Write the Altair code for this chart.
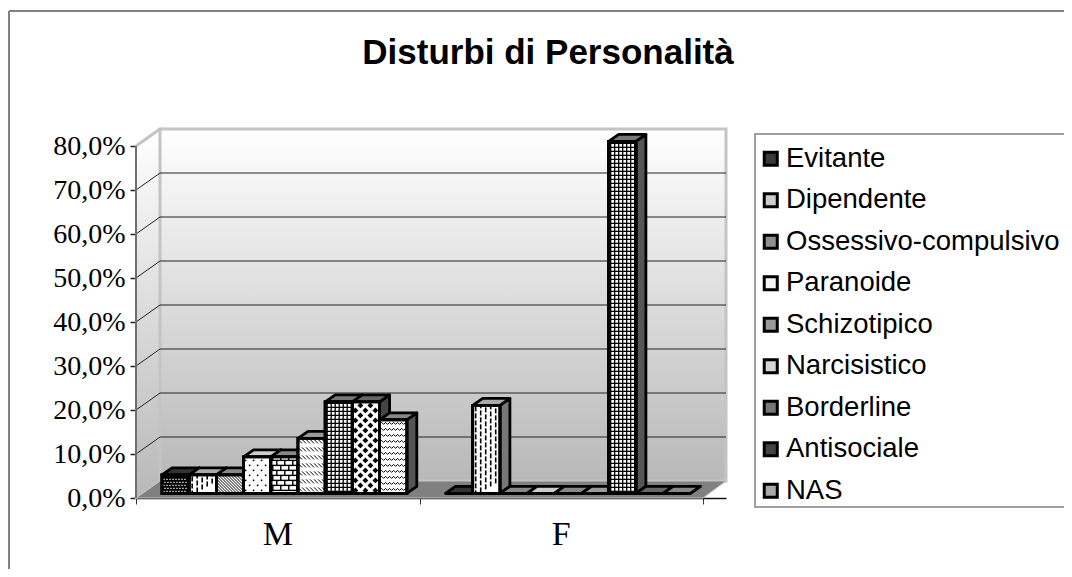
import altair as alt
import pandas as pd

TITLE = "Disturbi di Personalità"
GENDERS = ["M", "F"]
SERIES = ["Evitante", "Dipendente", "Ossessivo-compulsivo", "Paranoide", "Schizotipico",
          "Narcisistico", "Borderline", "Antisociale", "NAS"]
VALUES_M = [0.042, 0.042, 0.042, 0.083, 0.083, 0.125, 0.208, 0.208, 0.167]
VALUES_F = [0.0, 0.2, 0.0, 0.0, 0.0, 0.0, 0.8, 0.0, 0.0]
Y_TICKS = [0.0, 0.1, 0.2, 0.3, 0.4, 0.5, 0.6, 0.7, 0.8]

FRONT = ["#000000", "#ffffff", "#ffffff", "#ffffff", "#ffffff", "#ffffff", "#ffffff", "#ffffff", "#ffffff"]
SIDE = ["#111111", "#777777", "#666666", "#888888", "#666666", "#777777", "#555555", "#444444", "#555555"]
TOP = ["#333333", "#aaaaaa", "#888888", "#cccccc", "#888888", "#999999", "#777777", "#666666", "#888888"]
SWATCH = ["#3a3a3a", "#cccccc", "#8f8f8f", "#f4f4f4", "#9a9a9a", "#d5d5d5", "#777777", "#444444", "#aaaaaa"]

# plot geometry: one x unit is one gender group, one y unit is 100%
W, H = 590, 370
PX, PY = 1 / 283.5, 1 / 440
X_MAX, Y_MAX = W * PX, H * PY
WALL_DX, WALL_DY = 24 * PX, 17 * PY
BAR_DX, BAR_DY = 10 * PX, 7 * PY
BAR_W, BAR_START, BASE = 27.2 * PX, 26 * PX, 0.0105
STROKE = 2.8
x_s = alt.Scale(domain=[0, X_MAX], nice=False, zero=False)
y_s = alt.Scale(domain=[0, Y_MAX], nice=False, zero=False)


def X(f="x:Q", **k):
    return alt.X(f, scale=x_s, axis=None, title=None, **k)


def Y(f="y:Q"):
    return alt.Y(f, scale=y_s, axis=None, title=None, stack=None)


X2, Y2 = alt.X2("x2:Q"), alt.Y2("y2:Q")

bars = []
for g, vals in enumerate([VALUES_M, VALUES_F]):
    for i, v in enumerate(vals):
        xl = g + BAR_START + i * BAR_W
        bars.append(dict(id=f"{g}-{i}", s=i, name=SERIES[i], x=xl, x2=xl + BAR_W, y=BASE + v, y2=BASE, v=v,
                         front=FRONT[i], side=SIDE[i], top=TOP[i]))
bars_df = pd.DataFrame(bars)

side_rows, top_rows = [], []
for b in bars:
    xr, t, bs = b["x2"], b["y"], b["y2"]
    side_rows += [dict(id=b["id"], x=xr, y=t, y2=bs, fill=b["side"]),
                  dict(id=b["id"], x=xr + BAR_DX, y=t + BAR_DY, y2=bs + BAR_DY, fill=b["side"])]
    xl = b["x"]
    top_rows += [dict(id=b["id"], x=xl, y=t, y2=t, fill=b["top"]),
                 dict(id=b["id"], x=xl + BAR_DX, y=t + BAR_DY, y2=t, fill=b["top"]),
                 dict(id=b["id"], x=xr, y=t + BAR_DY, y2=t, fill=b["top"]),
                 dict(id=b["id"], x=xr + BAR_DX, y=t + BAR_DY, y2=t + BAR_DY, fill=b["top"])]


def faces(rows):
    return alt.Chart(pd.DataFrame(rows)).mark_area(
        stroke="black", strokeWidth=STROKE, strokeJoin="round", orient="vertical", interpolate="linear"
    ).encode(x=X(), y=Y(), y2=Y2, detail="id:N", fill=alt.Fill("fill:N", scale=None))


# ---------- hatch patterns (styling only, in pixels inside each front face) ----------
def clip(u0, t0, u1, t1, w, h):
    a, b = 0.0, 1.0
    du, dt = u1 - u0, t1 - t0
    for p, q in ((-du, u0), (du, w - u0), (-dt, t0), (dt, h - t0)):
        if p == 0:
            if q < 0:
                return None
        else:
            r = q / p
            if p < 0:
                a = max(a, r)
            else:
                b = min(b, r)
    if a > b:
        return None
    return (u0 + a * du, t0 + a * dt, u0 + b * du, t0 + b * dt)


segs, dots = [], []
for b in bars:
    w, h = 27.2, b["v"] / PY
    if h <= 0:
        continue
    name = b["name"]

    def seg(u0, t0, u1, t1, sw=1.0):
        c = clip(u0, t0, u1, t1, w, h)
        if c:
            segs.append(dict(x=b["x"] + c[0] * PX, x2=b["x"] + c[2] * PX, y=BASE + c[1] * PY,
                             y2=BASE + c[3] * PY, sw=sw))

    def dot(u, t, shape, size, col):
        if 1.5 < u < w - 1.5 and 1.5 < t < h - 1.5:
            dots.append(dict(x=b["x"] + u * PX, y=BASE + t * PY, shape=shape, size=size, col=col))

    rows = int(h) + 10
    if name == "Evitante":
        for ri, r in enumerate(range(2, rows, 3)):
            for c in range(2 + (ri % 2), 28, 3):
                dot(c, r, "square", 1.6, "#ffffff")
    elif name == "Dipendente":
        for ci, c in enumerate(range(3, 27, 5)):
            for t in range(-2, rows, 7):
                seg(c, t + ci * 3, c, t + ci * 3 + 5, 1.6)
    elif name == "Ossessivo-compulsivo":
        for k in range(-rows, 40, 3):
            seg(k, h, k + h, 0, 1.0)
    elif name == "Paranoide":
        for ri, t in enumerate(range(3, rows, 5)):
            for c in range(2 + 4 * (ri % 2), 27, 8):
                dot(c, t, "square", 2.5, "#000000")
    elif name == "Schizotipico":
        for ri, t in enumerate(range(3, rows, 5)):
            seg(0, t, w, t, 1.4)
            for c in range(2 + 4 * (ri % 2), 27, 8):
                seg(c, t, c, t + 5, 1.4)
    elif name == "Narcisistico":
        for t in range(4, rows, 8):
            for c in range(0, 27, 4):
                seg(c, t + 2, c + 4, t - 2, 1.0)
    elif name == "Borderline":
        for c in range(2, 27, 4):
            seg(c, 0, c, h, 1.3)
        for t in range(2, rows, 4):
            seg(0, t, w, t, 1.3)
    elif name == "Antisociale":
        for ri, t in enumerate(range(3, rows, 5)):
            for c in range(3 + 5 * (ri % 2), 28, 10):
                dot(c, t, "diamond", 34, "#000000")
    elif name == "NAS":
        for t in range(3, rows, 6):
            for c in range(0, 27, 4):
                seg(c, t, c + 2, t + 2, 1.0)
                seg(c + 2, t + 2, c + 4, t, 1.0)

# ---------- walls and floor ----------
GRAD = alt.LinearGradient(gradient="linear", x1=0, x2=0, y1=0, y2=1,
                          stops=[alt.GradientStop(offset=0, color="#ffffff"),
                                 alt.GradientStop(offset=1, color="#b8b8b8")])
top_v = Y_TICKS[-1]
left_wall = alt.Chart(pd.DataFrame([dict(x=0, y=top_v, y2=0), dict(x=WALL_DX, y=top_v + WALL_DY, y2=WALL_DY)])).mark_area(
    fill=GRAD, orient="vertical", stroke="#c4c4c4", strokeWidth=2).encode(x=X(), y=Y(), y2=Y2)
back_wall = alt.Chart(pd.DataFrame([dict(x=WALL_DX, x2=X_MAX, y=top_v + WALL_DY, y2=WALL_DY)])).mark_rect(
    fill=GRAD, stroke="#c4c4c4", strokeWidth=3).encode(x=X(), x2=X2, y=Y(), y2=Y2)
floor = alt.Chart(pd.DataFrame([dict(x=0, y=0, y2=0), dict(x=WALL_DX, y=WALL_DY, y2=0),
                                dict(x=2, y=WALL_DY, y2=0), dict(x=X_MAX, y=WALL_DY, y2=WALL_DY)])).mark_area(
    fill="#808080", stroke="#c4c4c4", strokeWidth=1, orient="vertical").encode(x=X(), y=Y(), y2=Y2)

grid_rows = []
for v in Y_TICKS[1:-1]:
    grid_rows.append(dict(x=WALL_DX, x2=X_MAX, y=v + WALL_DY, y2=v + WALL_DY))
    grid_rows.append(dict(x=0, x2=WALL_DX, y=v, y2=v + WALL_DY))
grid = alt.Chart(pd.DataFrame(grid_rows)).mark_rule(color="#222222", strokeWidth=1).encode(x=X(), x2=X2, y=Y(), y2=Y2)
edge = alt.Chart(pd.DataFrame([dict(x=0, x2=WALL_DX, y=top_v, y2=top_v + WALL_DY)])).mark_rule(
    color="#c4c4c4", strokeWidth=3).encode(x=X(), x2=X2, y=Y(), y2=Y2)

# ---------- axes ----------
axes = alt.Chart(pd.DataFrame({"x": [0, 1, 2], "y": [0, 0, 0]})).mark_point(opacity=0).encode(
    x=alt.X("x:Q", scale=x_s, title=None,
            axis=alt.Axis(values=[0, 1, 2], labels=False, grid=False, tickSize=6, tickColor="#333333",
                          domainColor="#111111", domainWidth=1.5, tickWidth=1)),
    y=alt.Y("y:Q", scale=y_s, title=None,
            axis=alt.Axis(values=Y_TICKS, grid=False, domain=False, tickSize=6, tickColor="#222222", tickWidth=1.5,
                          labelFont="Liberation Serif", labelFontSize=28, labelColor="black", labelPadding=5,
                          labelExpr="replace(format(datum.value, '.1%'), '.', ',')")),
)
y_line = alt.Chart(pd.DataFrame([dict(x=0, y=0, y2=top_v)])).mark_rule(color="#707070", strokeWidth=2).encode(
    x=X(), y=Y(), y2=Y2)

# ---------- bars ----------
sides = faces(side_rows)
tops = faces(top_rows)
swatches = alt.Chart(bars_df).mark_rect(stroke="black", strokeWidth=STROKE).encode(
    x=X(), x2=X2, y=Y(), y2=Y2,
    color=alt.Color("name:N", sort=SERIES, title=None,
                    scale=alt.Scale(domain=SERIES, range=SWATCH),
                    legend=alt.Legend(orient="none", legendX=621, legendY=17, padding=0,
                                      symbolType="square", symbolSize=170, symbolStrokeColor="black",
                                      symbolStrokeWidth=3, symbolOpacity=1, labelFont="Liberation Sans",
                                      labelFontSize=27.5, labelColor="black", labelLimit=320, labelOffset=1.5,
                                      rowPadding=12.5)),
)
fronts = alt.Chart(bars_df).mark_rect(stroke="black", strokeWidth=STROKE).encode(
    x=X(), x2=X2, y=Y(), y2=Y2, fill=alt.Fill("front:N", scale=None))
hatch = alt.Chart(pd.DataFrame(segs)).mark_rule(color="black").encode(
    x=X(), x2=X2, y=Y(), y2=Y2, strokeWidth=alt.StrokeWidth("sw:Q", scale=None))
points = alt.Chart(pd.DataFrame(dots)).mark_point(filled=True, opacity=1).encode(
    x=X(), y=Y(), shape=alt.Shape("shape:N", scale=None), size=alt.Size("size:Q", scale=None),
    color=alt.Color("col:N", scale=None))
outline = alt.Chart(bars_df).mark_rect(stroke="black", strokeWidth=STROKE, fillOpacity=0, fill="white").encode(
    x=X(), x2=X2, y=Y(), y2=Y2)

labels = alt.Chart(pd.DataFrame({"g": GENDERS, "x": [0.5, 1.5]})).mark_text(
    font="Liberation Serif", fontSize=34, color="black", baseline="alphabetic").encode(
    x=X(), y=alt.value(H + 47), text="g:N")

frame_left = alt.Chart(pd.DataFrame({"a": [0]})).mark_rule(color="#808080", strokeWidth=2).encode(
    x=alt.value(-127), y=alt.value(-117), y2=alt.value(H + 71))
frame_top = alt.Chart(pd.DataFrame({"a": [0]})).mark_rule(color="#808080", strokeWidth=2).encode(
    x=alt.value(-127), x2=alt.value(W + 345), y=alt.value(-117))
legend_box = alt.Chart(pd.DataFrame({"a": [0]})).mark_rect(fill="white", stroke="#808080", strokeWidth=1.5).encode(
    x=alt.value(619), x2=alt.value(W + 345), y=alt.value(6), y2=alt.value(379))

chart = alt.layer(
    axes, left_wall, back_wall, floor, grid, edge, y_line, sides, tops, swatches, fronts, hatch, points, outline,
    labels, frame_left, frame_top, legend_box,
).resolve_axis(x="independent", y="independent").properties(
    width=W, height=H,
    autosize=alt.AutoSizeParams(type="none"),
    padding={"left": 128, "top": 120, "right": 338, "bottom": 71},
    title=alt.TitleParams(TITLE, font="Liberation Sans", fontWeight="bold", fontSize=35, color="black",
                          anchor="middle", dx=117, offset=-61),
).configure_view(stroke=None)

chart.save("out.html", embed_options={"renderer": "svg", "actions": False})
